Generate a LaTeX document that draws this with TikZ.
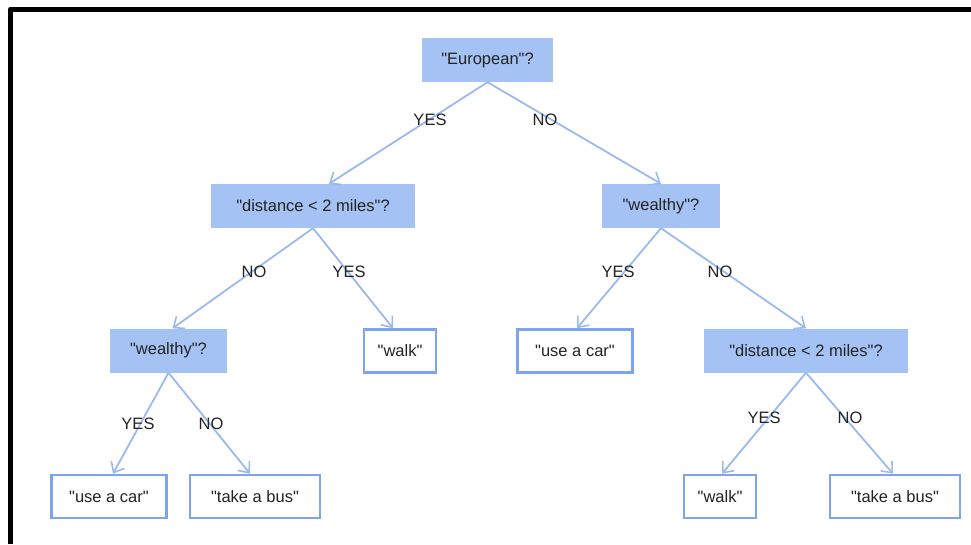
\documentclass[tikz,border=0pt]{standalone}
\usepackage{fontspec}
\setmainfont{Liberation Sans}
\usetikzlibrary{arrows.meta}
\newcommand{\dq}{\textquotedbl}
\definecolor{qfill}{RGB}{164,194,244}
\definecolor{leafline}{RGB}{125,165,236}
\definecolor{edgecol}{RGB}{155,185,240}
\definecolor{txt}{RGB}{35,35,35}
\tikzset{
  qbox/.style={fill=qfill, draw=none, minimum height=44pt, inner sep=0pt, text=txt, font=\fontsize{16.5}{19}\selectfont},
  leaf/.style={draw=leafline, line width=2.6pt, fill=white, minimum height=43pt, inner sep=0pt, text=txt, font=\fontsize{16.5}{19}\selectfont},
  lbl/.style={text=txt, inner sep=0pt, font=\fontsize{16.5}{19}\selectfont},
  conn/.style={draw=edgecol, line width=1.8pt, -{Straight Barb[length=9pt,width=15pt,line width=1.6pt]}},
}
\begin{document}
\begin{tikzpicture}[x=1pt,y=-1pt]
\useasboundingbox (0,0) rectangle (971,544);
% frame
\draw[line width=5.5pt, line cap=butt, line join=round] (10.5,544) -- (10.5,9.3) -- (971,9.3);
% question nodes
\node[qbox, minimum width=131pt] (eu) at (487.5,60) {\dq European\dq ?};
\node[qbox, minimum width=204pt] (dl) at (313,206) {\dq distance < 2 miles\dq ?};
\node[qbox, minimum width=118pt] (wr) at (661,206) {\dq wealthy\dq ?};
\node[qbox, minimum width=117pt] (wl) at (168.5,350.5) {\dq wealthy\dq ?};
\node[qbox, minimum width=204pt] (dr) at (806,350.5) {\dq distance < 2 miles\dq ?};
% leaves
\node[leaf, minimum width=72pt] (walk1) at (400,351) {\dq walk\dq};
\node[leaf, minimum width=115pt] (car1) at (575,351) {\dq use a car\dq};
\node[leaf, minimum width=115pt] (car2) at (109,496.5) {\dq use a car\dq};
\node[leaf, minimum width=130pt] (bus1) at (255,496.5) {\dq take a bus\dq};
\node[leaf, minimum width=72pt] (walk2) at (720,496.5) {\dq walk\dq};
\node[leaf, minimum width=130pt] (bus2) at (895,496.5) {\dq take a bus\dq};
% connectors
\draw[conn] (eu.south) -- ([xshift=16pt]dl.north);
\draw[conn] (eu.south) -- (wr.north);
\draw[conn] (dl.south) -- ([xshift=4pt]wl.north);
\draw[conn] (dl.south) -- ([xshift=-7pt]walk1.north);
\draw[conn] (wr.south) -- ([xshift=2pt]car1.north);
\draw[conn] (wr.south) -- (dr.north);
\draw[conn] (wl.south) -- ([xshift=4pt]car2.north);
\draw[conn] (wl.south) -- ([xshift=-5pt]bus1.north);
\draw[conn] (dr.south) -- ([xshift=2pt]walk2.north);
\draw[conn] (dr.south) -- ([xshift=-2pt]bus2.north);
% labels
\node[lbl] (y1) at (430,120) {YES};
\node[lbl] (n1) at (545,120) {NO};
\node[lbl] (n2) at (254,272) {NO};
\node[lbl] (y2) at (349,272) {YES};
\node[lbl] (y3) at (618,272) {YES};
\node[lbl] (n3) at (720,272) {NO};
\node[lbl] (y4) at (138,424) {YES};
\node[lbl] (n4) at (211,424) {NO};
\node[lbl] (y5) at (764,418) {YES};
\node[lbl] (n5) at (850,418) {NO};
\end{tikzpicture}
\end{document}
